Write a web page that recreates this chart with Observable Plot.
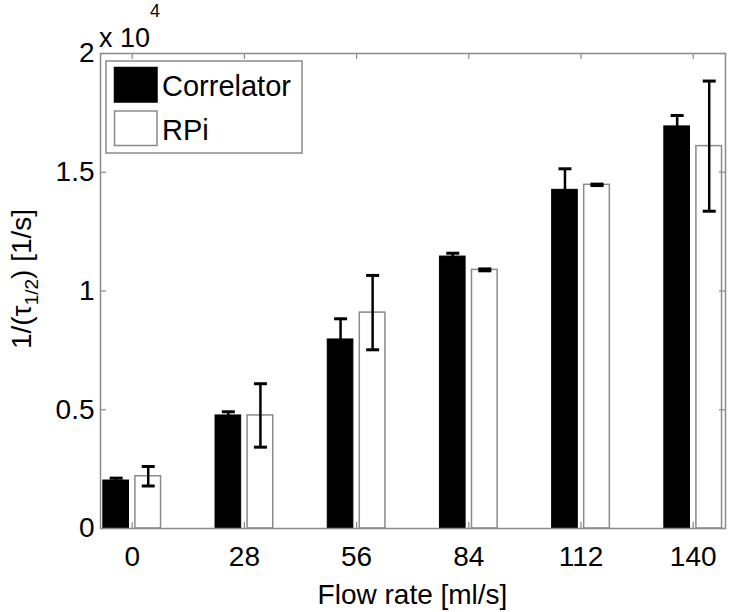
<!DOCTYPE html>
<html>
<head>
<meta charset="utf-8">
<script src="https://cdn.jsdelivr.net/npm/d3@7"></script>
<script src="https://cdn.jsdelivr.net/npm/@observablehq/plot@0.6"></script>
<style>
  body { margin: 0; background: #fff; }
  #chart svg { display: block; }
</style>
</head>
<body>
<div id="chart"></div>
<script>
// ---- data ----
const flowRates = [0, 28, 56, 84, 112, 140];
const seriesNames = ["Correlator", "RPi"];
const correlator = [2020, 4760, 7960, 11450, 14260, 16930];
const correlatorErr = [100, 155, 870, 140, 885, 460];
const rpi = [2200, 4760, 9090, 10890, 14470, 16100];
const rpiErr = [410, 1335, 1565, 40, 30, 2740];
const yTicks = [0, 5000, 10000, 15000, 20000];

// ---- layout (MATLAB grouped-bar geometry) ----
const groupWidth = 2 / 3.5;
const barWidth = (groupWidth / 2) * 0.8;
const offsets = { Correlator: -groupWidth / 4, RPi: groupWidth / 4 };
const W = 735, H = 612;
const mL = 100, mR = 10, mT = 53, mB = 84;
const innerW = W - mL - mR, innerH = H - mT - mB;
const gray = "#8a8a8a";
const font = "'Liberation Sans', Arial, Helvetica, sans-serif";

const groupIdx = flowRates.map((_, i) => i + 1);
function rowsFor(name, vals, errs) {
  return vals.map((v, i) => ({ g: i + 1, series: name, value: v, err: errs[i] }));
}
const corrRows = rowsFor("Correlator", correlator, correlatorErr);
const rpiRows = rowsFor("RPi", rpi, rpiErr);
const allRows = corrRows.concat(rpiRows);
const cx = d => d.g + offsets[d.series];

const capShape = { draw(context, l) { context.moveTo(0, 0); context.lineTo(0, -l); } };

const chart = Plot.plot({
  width: W, height: H,
  marginLeft: mL, marginRight: mR, marginTop: mT, marginBottom: mB,
  style: { fontFamily: font, fontSize: "28px", background: "white", color: "black" },
  x: { type: "linear", domain: [0.7175, 6.288], axis: null },
  y: { domain: [0, 20000], axis: null },
  marks: [
    Plot.rect(corrRows, {
      x1: d => cx(d) - barWidth / 2, x2: d => cx(d) + barWidth / 2,
      y1: () => 0, y2: "value", fill: "black", stroke: "black", strokeWidth: 1
    }),
    Plot.rect(rpiRows, {
      x1: d => cx(d) - barWidth / 2, x2: d => cx(d) + barWidth / 2,
      y1: () => 0, y2: "value", fill: "white", stroke: gray, strokeWidth: 1.5
    }),
    // error bars
    Plot.ruleX(allRows, {
      x: cx, y1: d => d.value - d.err, y2: d => d.value + d.err,
      stroke: "black", strokeWidth: 2.5
    }),
    Plot.vector(allRows, {
      x: cx, y: d => d.value + d.err, length: 13, rotate: 90, anchor: "middle",
      shape: capShape, stroke: "black", strokeWidth: 3, strokeLinecap: "butt"
    }),
    Plot.vector(allRows, {
      x: cx, y: d => d.value - d.err, length: 13, rotate: 90, anchor: "middle",
      shape: capShape, stroke: "black", strokeWidth: 3, strokeLinecap: "butt"
    }),
    // inward ticks (MATLAB box style)
    Plot.tickY(yTicks, { insetRight: innerW - 6, stroke: gray, strokeWidth: 1.2 }),
    Plot.tickY(yTicks, { insetLeft: innerW - 6, stroke: gray, strokeWidth: 1.2 }),
    Plot.tickX(groupIdx, { insetBottom: innerH - 6, stroke: gray, strokeWidth: 1.2 }),
    Plot.tickX(groupIdx, { insetTop: innerH - 6, stroke: gray, strokeWidth: 1.2 }),
    Plot.frame({ stroke: gray, strokeWidth: 1.5 }),
    // axes
    Plot.axisY(yTicks, {
      anchor: "left", tickSize: 0, tickPadding: 6, label: null,
      tickFormat: d => d / 1e4, fill: "black", fontSize: 28
    }),
    Plot.axisX(groupIdx, {
      anchor: "bottom", tickSize: 0, tickPadding: 18, label: null,
      tickFormat: i => flowRates[i - 1], fill: "black", fontSize: 28
    })
  ]
});

document.getElementById("chart").appendChild(chart);

// ---- extra text & legend (SVG, pixel layout) ----
const svg = d3.select(chart.tagName.toLowerCase() === "svg" ? chart : chart.querySelector("svg"));

// exponent label
const expo = svg.append("text")
  .attr("x", 99).attr("y", 47).attr("text-anchor", "start")
  .attr("font-family", font).attr("font-size", 27).attr("fill", "black");
expo.append("tspan").text("x 10");
expo.append("tspan").attr("font-size", 18).attr("dy", -30).text("4");

// x label
svg.append("text")
  .attr("x", mL + innerW / 2).attr("y", 604)
  .attr("text-anchor", "middle")
  .attr("font-family", font).attr("font-size", 28).attr("fill", "black")
  .text("Flow rate [ml/s]");

// y label with subscript
const yl = svg.append("text")
  .attr("transform", "translate(31,279) rotate(-90)")
  .attr("text-anchor", "middle")
  .attr("font-family", font).attr("font-size", 28).attr("fill", "black");
yl.append("tspan").text("1/(τ");
yl.append("tspan").attr("font-size", 19).attr("dy", 7).text("1/2");
yl.append("tspan").attr("dy", -7).text(") [1/s]");

// legend
const lg = svg.append("g");
lg.append("rect").attr("x", 106).attr("y", 61).attr("width", 196).attr("height", 92)
  .attr("fill", "white").attr("stroke", gray).attr("stroke-width", 1.5);
const legendItems = [
  { name: seriesNames[0], fill: "black", stroke: "black", y: 67.5 },
  { name: seriesNames[1], fill: "white", stroke: gray, y: 111 }
];
legendItems.forEach(it => {
  lg.append("rect").attr("x", 114.5).attr("y", it.y).attr("width", 42.5).attr("height", 34.5)
    .attr("fill", it.fill).attr("stroke", it.stroke).attr("stroke-width", 1.5);
  lg.append("text").attr("x", 162).attr("y", it.y + 28.5).attr("text-anchor", "start")
    .attr("font-family", font).attr("font-size", 29).attr("fill", "black")
    .text(it.name);
});
</script>
</body>
</html>
